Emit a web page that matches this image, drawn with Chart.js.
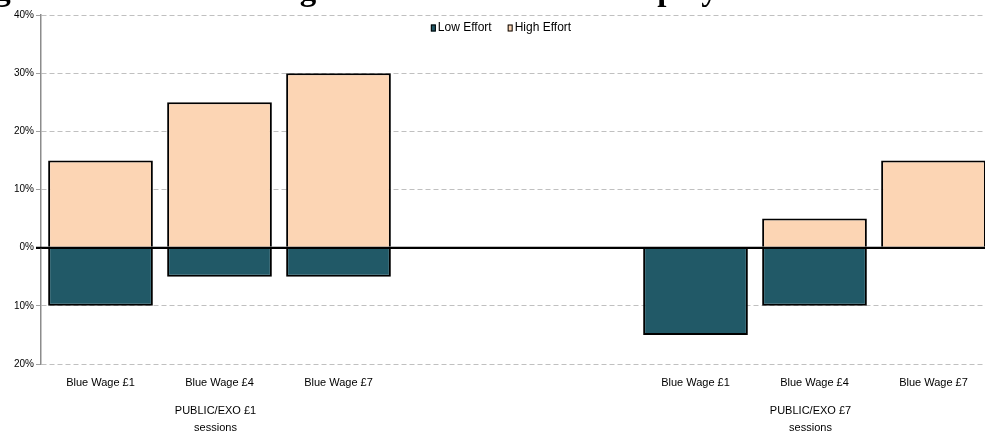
<!DOCTYPE html>
<html>
<head>
<meta charset="utf-8">
<script src="https://cdn.jsdelivr.net/npm/chart.js@4.4.1/dist/chart.umd.min.js"></script>
<style>
  html, body { margin: 0; padding: 0; background: #fff; overflow: hidden; }
  #wrap { position: absolute; left: 0; top: 0; width: 993px; height: 434px; }
  #title {
    position: absolute; left: -35px; top: -27px; white-space: nowrap;
    font: bold 33px/33px "Liberation Serif", "Times New Roman", serif; color: #000;
  }
</style>
</head>
<body>
<div id="wrap"><canvas id="chart"></canvas></div>
<div id="title">Figure 3.3: Flow to a High Effort Rates: Blue Employees in PUBLIC/EXO Sessions</div>
<script>
  // two session groups of three wage levels, two empty slots between them
  const categories = ["Blue Wage £1", "Blue Wage £4", "Blue Wage £7", "", "", "Blue Wage £1", "Blue Wage £4", "Blue Wage £7"];
  const lowEffort = [-10, -5, -5, null, null, -15, -10, null];
  const highEffort = [15, 25, 30, null, null, null, 5, 15];
  const groupLabels = [["PUBLIC/EXO £1", "sessions"], ["PUBLIC/EXO £7", "sessions"]];
  const groupCenters = [1, 6];

  const fontFamily = "'Liberation Sans', Arial, sans-serif";

  const groupLabelPlugin = {
    id: "groupLabels",
    afterDraw(chart) {
      const ctx = chart.ctx;
      const xScale = chart.scales.x;
      const base = chart.chartArea.bottom;
      ctx.save();
      ctx.font = "11px " + fontFamily;
      ctx.fillStyle = "#000";
      ctx.textAlign = "center";
      ctx.textBaseline = "middle";
      groupLabels.forEach((lines, i) => {
        const x = xScale.getPixelForValue(groupCenters[i]);
        lines.forEach((line, j) => ctx.fillText(line, x - 4, base + 47 + j * 17));
      });
      ctx.restore();
    }
  };

  // solid zero line on top of the bars so the bar bases merge into it
  const zeroLine = {
    id: "zeroLine",
    afterDatasetsDraw(chart) {
      const ctx = chart.ctx;
      const y = chart.scales.y.getPixelForValue(0);
      const { left, right } = chart.chartArea;
      ctx.save();
      ctx.strokeStyle = "#000";
      ctx.lineWidth = 2;
      ctx.beginPath();
      ctx.moveTo(left - 5, y);
      ctx.lineTo(right, y);
      ctx.stroke();
      ctx.restore();
    }
  };

  // small legend sitting inside the plot, just under the top gridline
  const insideLegend = {
    id: "insideLegend",
    afterDraw(chart) {
      const ctx = chart.ctx;
      const sets = chart.data.datasets;
      const box = 5, gap = 2, spacing = 16;
      ctx.save();
      ctx.font = "12px " + fontFamily;
      ctx.textBaseline = "middle";
      ctx.textAlign = "left";
      const widths = sets.map(d => box + gap + ctx.measureText(d.label).width);
      const total = widths.reduce((a, b) => a + b, 0) + spacing * (sets.length - 1);
      let x = 501 - total / 2;
      const y = chart.chartArea.top + 13;
      sets.forEach((d, i) => {
        ctx.fillStyle = d.backgroundColor;
        ctx.fillRect(x, y - 3.5, box, 7);
        ctx.strokeStyle = "#000";
        ctx.lineWidth = 1;
        ctx.strokeRect(x + 0.5, y - 3, box - 1, 6);
        ctx.fillStyle = "#000";
        ctx.fillText(d.label, x + box + gap, y);
        x += widths[i] + spacing;
      });
      ctx.restore();
    }
  };

  new Chart(document.getElementById("chart"), {
    type: "bar",
    data: {
      labels: categories,
      datasets: [
        { label: "Low Effort", data: lowEffort, backgroundColor: "#215967", borderColor: "#000", borderWidth: 2, borderSkipped: "start" },
        { label: "High Effort", data: highEffort, backgroundColor: "#FCD5B4", borderColor: "#000", borderWidth: 2, borderSkipped: "start" }
      ]
    },
    options: {
      responsive: true,
      maintainAspectRatio: false,
      animation: false,
      datasets: { bar: { categoryPercentage: 1, barPercentage: 0.88 } },
      layout: { padding: { top: 15, right: 0, left: 0, bottom: 0 } },
      plugins: {
        tooltip: { enabled: false },
        legend: { display: false }
      },
      scales: {
        x: {
          stacked: true,
          grid: { display: false, drawTicks: false },
          border: { display: false },
          ticks: { color: "#000", font: { family: fontFamily, size: 11 }, padding: 12, maxRotation: 0, autoSkip: false },
          afterFit(scale) { scale.height = 70; }
        },
        y: {
          stacked: true,
          min: -20,
          max: 40,
          ticks: {
            stepSize: 10,
            color: "#000",
            font: { family: fontFamily, size: 10 },
            padding: 2,
            callback: v => Math.abs(v) + "%"
          },
          grid: {
            color: c => c.tick.value === 0 ? "#000" : "#c0c0c0",
            lineWidth: c => c.tick.value === 0 ? 2 : 1,
            tickColor: c => c.tick.value === 0 ? "#000" : "#a0a0a0",
            tickLength: 5
          },
          border: {
            color: "#8c8c8c",
            width: 1.5,
            dash: c => (c.tick && c.tick.value === 0) ? [] : [5, 3]
          },
          afterFit(scale) { scale.width = 41; }
        }
      }
    },
    plugins: [groupLabelPlugin, zeroLine, insideLegend]
  });
</script>
</body>
</html>
